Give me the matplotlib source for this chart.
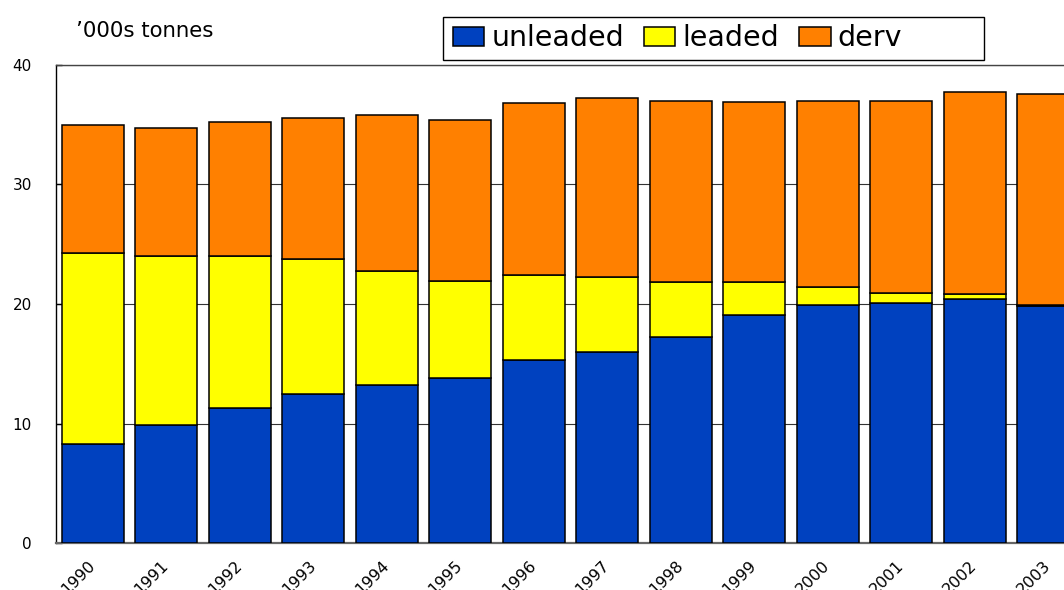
import matplotlib
matplotlib.use("Agg")
import matplotlib.pyplot as plt
from matplotlib.patches import Rectangle
import numpy as np

plt.rcParams['font.family'] = ['DejaVu Sans']

years = ['1990', '1991', '1992', '1993', '1994', '1995', '1996',
         '1997', '1998', '1999', '2000', '2001', '2002', '2003']
unleaded = [8.3, 9.9, 11.3, 12.5, 13.2, 13.8, 15.3, 16.0, 17.2, 19.1, 19.9, 20.1, 20.4, 19.8]
leaded = [16.0, 14.1, 12.7, 11.3, 9.6, 8.1, 7.1, 6.3, 4.6, 2.7, 1.5, 0.8, 0.4, 0.1]
derv = [10.65, 10.7, 11.2, 11.8, 13.0, 13.5, 14.4, 14.9, 15.2, 15.1, 15.6, 16.1, 16.9, 17.7]

series = [('unleaded', unleaded, '#0041BF'),
          ('leaded', leaded, '#FFFF00'),
          ('derv', derv, '#FF8000')]

W, H = 1064, 590
fig = plt.figure(figsize=(W / 100, H / 100), dpi=100)
# axes run past the right edge of the figure
ax = fig.add_axes([56 / W, (H - 543) / H, 1029 / W, (543 - 65) / H])

x = np.arange(len(years))
bottom = np.zeros(len(years))
handles = []
for name, vals, col in series:
    b = ax.bar(x, vals, width=0.845, bottom=bottom, color=col,
               edgecolor='black', linewidth=1.1, label=name, zorder=3)
    handles.append(b)
    bottom += np.array(vals)

ax.set_xlim(-0.5, 13.5)
ax.set_ylim(0, 40)
ax.set_yticks([0, 10, 20, 30, 40])
ax.set_xticks(x)
ax.set_xticklabels(years, rotation=45, ha='right', va='center',
                   rotation_mode='anchor', fontsize=11.5)
ax.tick_params(axis='x', length=0, pad=14.5)
ax.tick_params(axis='y', direction='in', length=4.3, width=1, pad=17.3,
               labelsize=11, right=True)

ax.yaxis.grid(True, color='#333333', linewidth=0.8)
ax.set_axisbelow(True)

ax.spines['left'].set_color('black')
ax.spines['left'].set_linewidth(1.0)
ax.spines['top'].set_color('#444444')
ax.spines['top'].set_linewidth(1.0)
ax.spines['bottom'].set_color('#666666')
ax.spines['bottom'].set_linewidth(1.6)

fig.text(76 / W, 1 - 36.7 / H, '\u2019000s tonnes', fontsize=15.3,
         ha='left', va='baseline')

leg = fig.legend(handles=handles, labels=[s[0] for s in series],
                 loc='center left', bbox_to_anchor=(453 / W, 1 - 38.5 / H),
                 ncol=3, frameon=False, borderpad=0, fontsize=20.5,
                 handlelength=1.1, handleheight=0.65, handletextpad=0.25,
                 columnspacing=0.7, borderaxespad=0)

fig.patches.append(Rectangle((443 / W, 1 - 60 / H), 541 / W, 43.3 / H,
                             transform=fig.transFigure, fill=False,
                             edgecolor='black', linewidth=1.0))

fig.savefig('out.png', dpi=100)
